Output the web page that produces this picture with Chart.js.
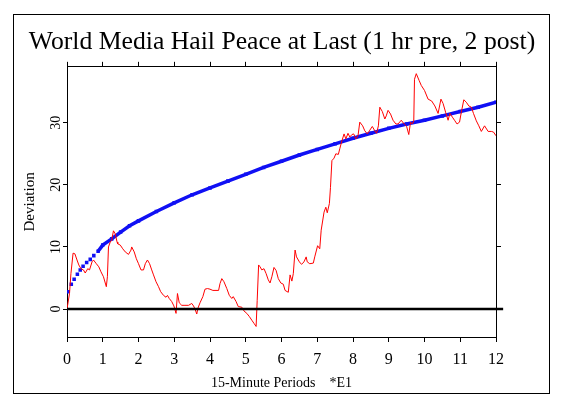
<!DOCTYPE html>
<html>
<head>
<meta charset="utf-8">
<script src="https://cdn.jsdelivr.net/npm/chart.js@4"></script>
<style>
  body { margin: 0; background: #fff; }
</style>
</head>
<body>
<canvas id="chart" width="564" height="398"></canvas>
<script>
// chart text
const titleText = 'World Media Hail Peace at Last (1 hr pre, 2 post)';
const xTitle = '15-Minute Periods    *E1';
const yTitle = 'Deviation';

// tick labels
const xTickValues = [0, 1, 2, 3, 4, 5, 6, 7, 8, 9, 10, 11, 12];
const yTickValues = [0, 10, 20, 30];

// cumulative deviation (red trace)
const redX = [
  0, 0.07, 0.11, 0.17, 0.22, 0.28, 0.33, 0.39, 0.46, 0.51,
  0.58, 0.63, 0.70, 0.74, 0.82, 0.89, 0.95, 1.02, 1.10, 1.13,
  1.16, 1.21, 1.25, 1.30, 1.35, 1.40, 1.42, 1.49, 1.56, 1.63,
  1.72, 1.79, 1.81, 1.88, 1.94, 2.00, 2.07, 2.14, 2.19, 2.25,
  2.31, 2.37, 2.42, 2.49, 2.56, 2.62, 2.70, 2.77, 2.81, 2.86,
  2.93, 2.99, 3.05, 3.09, 3.14, 3.21, 3.30, 3.40, 3.49, 3.54,
  3.58, 3.63, 3.66, 3.72, 3.80, 3.86, 3.93, 4.00, 4.08, 4.14,
  4.24, 4.28, 4.33, 4.39, 4.47, 4.54, 4.61, 4.65, 4.73, 4.79,
  4.89, 4.95, 5.03, 5.10, 5.17, 5.23, 5.29, 5.32, 5.36, 5.40,
  5.45, 5.51, 5.57, 5.63, 5.68, 5.73, 5.79, 5.85, 5.91, 5.98,
  6.05, 6.10, 6.19, 6.24, 6.29, 6.33, 6.38, 6.42, 6.50, 6.56,
  6.63, 6.69, 6.72, 6.79, 6.89, 6.93, 7.01, 7.07, 7.11, 7.19,
  7.24, 7.28, 7.34, 7.37, 7.41, 7.47, 7.52, 7.59, 7.63, 7.68,
  7.75, 7.80, 7.86, 7.91, 7.97, 8.02, 8.08, 8.14, 8.19, 8.27,
  8.33, 8.40, 8.47, 8.54, 8.61, 8.66, 8.71, 8.75, 8.82, 8.89,
  8.93, 8.98, 9.05, 9.12, 9.20, 9.26, 9.35, 9.43, 9.50, 9.56,
  9.61, 9.66, 9.70, 9.72, 9.77, 9.85, 9.91, 10.00, 10.10, 10.20,
  10.29, 10.38, 10.46, 10.52, 10.59, 10.66, 10.71, 10.78, 10.84, 10.91,
  10.98, 11.03, 11.10, 11.17, 11.24, 11.31, 11.37, 11.45, 11.52, 11.59,
  11.68, 11.78, 11.87, 11.93, 12.00
];
const redY = [
  0, 2.5, 5.7, 9.0, 8.9, 7.9, 7.1, 6.5, 6.3, 5.8,
  6.5, 6.3, 7.6, 7.9, 7.3, 6.8, 6.0, 5.2, 3.6, 5.2,
  10.0, 10.8, 11.1, 12.6, 12.1, 10.8, 10.5, 10.3, 9.7, 9.2,
  8.8, 9.5, 10.0, 9.2, 8.1, 7.3, 6.3, 6.3, 7.3, 7.9,
  7.3, 6.3, 5.5, 4.4, 3.6, 2.8, 2.2, 1.9, 2.2, 1.7,
  1.2, 0.5, -0.7, 2.5, 1.0, 0.6, 0.6, 0.6, 0.9, 0.5,
  0.0, -0.8, 0.1, 1.0, 2.0, 3.2, 3.3, 3.2, 3.0, 3.0,
  3.0, 4.1, 4.9, 4.4, 3.3, 2.2, 1.7, 2.0, 1.2, 0.4,
  0.3, -0.3, -0.7, -1.2, -1.8, -2.3, -2.8, 1.4, 7.1, 6.8,
  6.3, 6.5, 5.7, 4.7, 4.2, 5.2, 6.7, 6.2, 4.9, 4.2,
  4.0, 3.0, 2.7, 5.5, 4.5, 5.7, 9.5, 8.4, 7.6, 7.2,
  7.6, 8.4, 7.6, 7.3, 7.4, 8.4, 10.2, 9.7, 12.7, 15.6,
  16.4, 15.5, 17.0, 19.6, 23.9, 24.3, 25.0, 24.9, 25.8, 26.9,
  28.2, 27.4, 28.3, 27.7, 28.1, 28.2, 27.4, 27.9, 30.1, 29.5,
  28.7, 28.2, 28.8, 29.4, 28.7, 28.3, 29.5, 32.5, 31.8, 30.6,
  31.1, 32.0, 31.4, 30.4, 29.8, 29.8, 30.4, 29.8, 29.4, 28.1,
  30.1, 29.8, 30.3, 37.0, 37.9, 36.8, 36.0, 35.2, 33.8, 33.5,
  32.7, 31.5, 33.8, 33.1, 31.7, 30.4, 31.5, 30.9, 30.4, 29.8,
  30.1, 31.7, 33.7, 33.3, 32.7, 32.5, 31.5, 30.3, 29.5, 28.6,
  29.5, 28.6, 28.6, 28.5, 27.9
];

// expectation envelope (blue dots)
const blueX = [
  0.03, 0.12, 0.2, 0.29, 0.37, 0.45, 0.55, 0.65, 0.75, 0.87,
  1, 1.25, 1.5, 1.75, 2, 2.5, 3, 3.5, 4, 4.5,
  5, 5.5, 6, 6.5, 7, 7.5, 8, 8.5, 9, 9.5,
  10, 10.5, 11, 11.5, 12
];
const blueY = [
  2.8, 4.0, 4.8, 5.6, 6.3, 6.9, 7.5, 8.0, 8.6, 9.3,
  10.3, 11.3, 12.4, 13.4, 14.2, 15.7, 17.1, 18.4, 19.5, 20.6,
  21.7, 22.8, 23.8, 24.8, 25.7, 26.6, 27.5, 28.3, 29.1, 29.8,
  30.4, 31.1, 31.8, 32.5, 33.3
];

// zero reference line
const zeroX = [0, 12.2];
const zeroY = [0, 0];

const toPoints = (xs, ys) => xs.map((x, i) => ({ x: x, y: ys[i] }));

const serif = 'Liberation Serif, Times New Roman, serif';
const blue = '#1010f4';

Chart.defaults.color = '#000';
Chart.defaults.font.family = serif;

// outer box around the whole figure
const outerFrame = {
  id: 'outerFrame',
  afterDraw(chart) {
    const ctx = chart.ctx;
    ctx.save();
    ctx.strokeStyle = '#000';
    ctx.lineWidth = 1;
    ctx.strokeRect(13.5, 14.5, 536, 379);
    ctx.restore();
  }
};

const frameGrid = { drawOnChartArea: false, color: '#000', tickLength: 5 };
const frameBorder = { color: '#000', width: 1 };
const setXTicks = scale => { scale.ticks = xTickValues.map(v => ({ value: v })); };
const setYTicks = scale => { scale.ticks = yTickValues.map(v => ({ value: v })); };

new Chart(document.getElementById('chart'), {
  type: 'line',
  data: {
    datasets: [{
      label: 'zero',
      data: toPoints(zeroX, zeroY),
      borderColor: '#000',
      borderWidth: 2.5,
      pointRadius: 0,
      clip: false
    }, {
      label: 'deviation',
      data: toPoints(redX, redY),
      borderColor: '#ff0000',
      borderWidth: 1,
      pointRadius: 0,
      tension: 0
    }, {
      label: 'expectation',
      data: toPoints(blueX, blueY),
      borderColor: blue,
      backgroundColor: blue,
      borderWidth: 3.5,
      pointStyle: 'rect',
      pointRadius: 2.5,
      pointBorderWidth: 0,
      segment: {
        borderColor: ctx => ctx.p0.parsed.x < 0.8 ? 'rgba(0,0,0,0)' : blue
      }
    }]
  },
  options: {
    responsive: false,
    animation: false,
    layout: { padding: 0 },
    plugins: {
      legend: { display: false },
      tooltip: { enabled: false },
      title: {
        display: true,
        text: titleText,
        color: '#000',
        font: { family: serif, size: 25.7, weight: 'normal' },
        padding: { top: 27, bottom: 4 }
      }
    },
    scales: {
      x: {
        type: 'linear',
        position: 'bottom',
        min: 0,
        max: 12,
        afterBuildTicks: setXTicks,
        afterFit: scale => { scale.height = 61; },
        grid: frameGrid,
        border: frameBorder,
        ticks: { font: { size: 16 }, padding: 8, maxRotation: 0 },
        title: {
          display: true,
          text: xTitle,
          font: { size: 14 },
          padding: { top: 0, bottom: 6 }
        }
      },
      x2: {
        type: 'linear',
        position: 'top',
        min: 0,
        max: 12,
        afterBuildTicks: setXTicks,
        afterFit: scale => { scale.height = 5; },
        grid: frameGrid,
        border: frameBorder,
        ticks: { display: false }
      },
      y: {
        type: 'linear',
        position: 'left',
        min: -4.5,
        max: 39,
        afterBuildTicks: setYTicks,
        afterFit: scale => { scale.width = 67; },
        grid: { drawOnChartArea: false, color: '#000', tickLength: 4 },
        border: frameBorder,
        ticks: { font: { size: 14 }, padding: 0, minRotation: 90, maxRotation: 90, crossAlign: 'center' },
        title: {
          display: true,
          text: yTitle,
          font: { size: 15 },
          padding: { top: 21, bottom: 0 }
        }
      },
      y2: {
        type: 'linear',
        position: 'right',
        min: -4.5,
        max: 39,
        afterBuildTicks: setYTicks,
        afterFit: scale => { scale.width = 68; },
        grid: frameGrid,
        border: frameBorder,
        ticks: { display: false }
      }
    }
  },
  plugins: [outerFrame]
});
</script>
</body>
</html>
